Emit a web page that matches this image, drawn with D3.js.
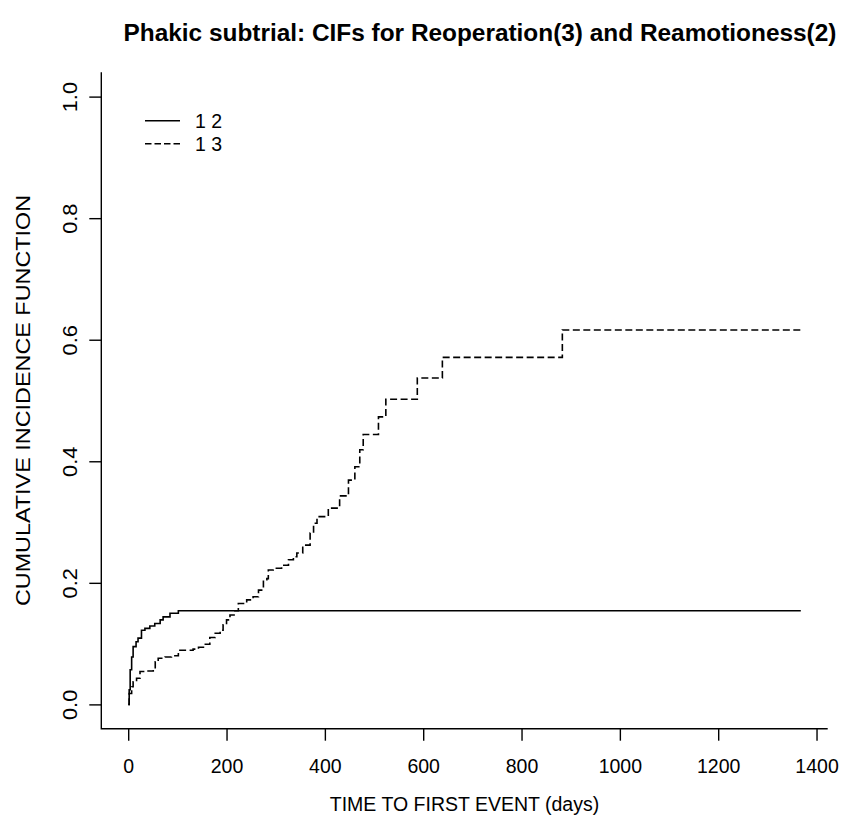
<!DOCTYPE html>
<html lang="en">
<head>
    <meta charset="UTF-8">
    <title>Phakic subtrial: CIFs</title>
    <script src="https://d3js.org/d3.v7.min.js"></script>
    <style>
        body {
            margin: 0;
            background-color: white;
        }
        text {
            font-family: 'Liberation Sans', Arial, sans-serif;
            fill: #000;
        }
    </style>
</head>
<body>
    <svg id="chart" width="842" height="826"></svg>

    <script>
        // Courbe "1 2" (Reamotioness) : temps en jours et CIF
        const times12 = [0, 2, 4, 7, 10, 16, 20, 27, 34, 44, 54, 65, 71, 85, 102, 1368];
        const cif12 = [0, 0.024, 0.057, 0.078, 0.095, 0.103, 0.109, 0.122, 0.125, 0.129, 0.133, 0.139, 0.144, 0.150, 0.154, 0.154];

        // Courbe "1 3" (Reoperation)
        const times13 = [0, 2, 7, 10, 17, 24, 34, 51, 55, 61, 75, 88, 102, 132, 143, 153, 166, 177, 187, 193,
            200, 207, 217, 224, 241, 254, 265, 275, 282, 285, 295, 312, 326, 336, 343, 355, 370, 377, 384,
            407, 430, 448, 461, 471, 478, 509, 524, 588, 639, 883, 1368];
        const cif13 = [0, 0.018, 0.029, 0.037, 0.043, 0.054, 0.055, 0.059, 0.070, 0.076, 0.078, 0.080, 0.089,
            0.091, 0.094, 0.099, 0.110, 0.117, 0.122, 0.131, 0.139, 0.147, 0.154, 0.166, 0.172, 0.177, 0.188,
            0.205, 0.207, 0.221, 0.224, 0.229, 0.238, 0.243, 0.249, 0.262, 0.282, 0.298, 0.309, 0.323, 0.343,
            0.369, 0.391, 0.419, 0.444, 0.473, 0.502, 0.537, 0.571, 0.616, 0.616];

        const xTicks = [0, 200, 400, 600, 800, 1000, 1200, 1400];
        const yTicks = [0, 0.2, 0.4, 0.6, 0.8, 1.0];
        const legendLabels = ["1 2", "1 3"];

        const svg = d3.select("#chart");

        // Zone du graphe (comme R : étendue +4% de chaque côté)
        const plotLeft = 101.3, plotRight = 827.7, plotTop = 72.3, plotBottom = 728.7;
        const xMax = 1368;
        const x = d3.scaleLinear().domain([-0.04 * xMax, 1.04 * xMax]).range([plotLeft, plotRight]);
        const y = d3.scaleLinear().domain([-0.04, 1.04]).range([plotBottom, plotTop]);

        // Titre
        svg.append("text")
            .attr("x", 480)
            .attr("y", 41)
            .attr("text-anchor", "middle")
            .style("font-weight", "bold")
            .style("font-size", "24.4px")
            .text("Phakic subtrial: CIFs for Reoperation(3) and Reamotioness(2)");

        // Cadre en L
        svg.append("path")
            .attr("d", `M${plotLeft},${plotTop}V${plotBottom}H${plotRight}`)
            .attr("fill", "none")
            .attr("stroke", "#000")
            .attr("stroke-width", 1.4);

        // Axe des x
        const xAxis = svg.append("g")
            .attr("transform", `translate(0,${plotBottom})`)
            .call(d3.axisBottom(x).tickValues(xTicks).tickSize(12).tickPadding(18).tickFormat(d3.format("d")));
        xAxis.select(".domain").remove();
        xAxis.selectAll("line").attr("stroke-width", 1.4);
        xAxis.selectAll("text")
            .style("font-family", "'Liberation Sans', Arial, sans-serif")
            .style("font-size", "19.5px");

        // Axe des y (étiquettes tournées comme dans R, un peu étirées)
        const yAxis = svg.append("g")
            .attr("transform", `translate(${plotLeft},0)`)
            .call(d3.axisLeft(y).tickValues(yTicks).tickSize(12).tickFormat(d3.format(".1f")));
        yAxis.select(".domain").remove();
        yAxis.selectAll("line").attr("stroke-width", 1.4);
        yAxis.selectAll("text")
            .style("font-family", "'Liberation Sans', Arial, sans-serif")
            .style("font-size", "19.5px")
            .attr("x", null)
            .attr("dy", null)
            .attr("text-anchor", "middle")
            .attr("transform", "translate(-24,0) scale(1,1.12) rotate(-90)");

        // Titres des axes
        svg.append("text")
            .attr("x", (plotLeft + plotRight) / 2)
            .attr("y", 811)
            .attr("text-anchor", "middle")
            .style("font-size", "19.5px")
            .text("TIME TO FIRST EVENT (days)");

        svg.append("text")
            .attr("transform", `translate(29.5,${(plotTop + plotBottom) / 2}) scale(1,1.2) rotate(-90)`)
            .attr("text-anchor", "middle")
            .style("font-size", "19.5px")
            .text("CUMULATIVE INCIDENCE FUNCTION");

        // Courbes en escalier
        const line = d3.line()
            .x(d => x(d[0]))
            .y(d => y(d[1]))
            .curve(d3.curveStepAfter);

        svg.append("path")
            .datum(d3.zip(times12, cif12))
            .attr("d", line)
            .attr("fill", "none")
            .attr("stroke", "#000")
            .attr("stroke-width", 1.6);

        svg.append("path")
            .datum(d3.zip(times13, cif13))
            .attr("d", line)
            .attr("fill", "none")
            .attr("stroke", "#000")
            .attr("stroke-width", 1.6)
            .attr("stroke-dasharray", "7,3.5");

        // Légende
        const legend = svg.append("g");
        legendLabels.forEach((lab, i) => {
            const ly = 120.7 + i * 23;
            legend.append("line")
                .attr("x1", 145).attr("x2", 180)
                .attr("y1", ly).attr("y2", ly)
                .attr("stroke", "#000")
                .attr("stroke-width", 1.6)
                .attr("stroke-dasharray", i === 0 ? null : "6.5,3");
            legend.append("text")
                .attr("x", 195)
                .attr("y", ly + 7.5)
                .style("font-size", "19.5px")
                .text(lab);
        });
    </script>
</body>
</html>
